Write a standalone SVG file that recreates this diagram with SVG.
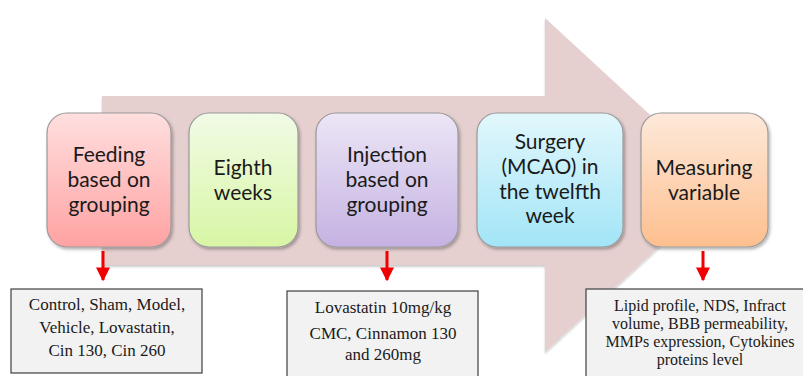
<svg xmlns="http://www.w3.org/2000/svg" width="803" height="376" viewBox="0 0 803 376">
<defs>
<style>
.step{stroke:#9a9a9a;stroke-width:1.2;filter:url(#sh)}
.st{font-family:Lato,"Open Sans",sans-serif;font-size:21px;fill:#1a1a1a;text-anchor:middle}
.note{fill:#f2f2f2;stroke:#3f3f3f;stroke-width:1.2}
.nt{font-family:"Liberation Serif","Times New Roman",serif;font-size:17px;fill:#1a1a1a;text-anchor:middle}
.nt2{font-family:"Liberation Serif","Times New Roman",serif;font-size:16px;fill:#1a1a1a;text-anchor:middle}
.red{stroke:#f00000;stroke-width:3;fill:none}
</style>
<filter id="sh" x="-10%" y="-10%" width="125%" height="125%">
<feDropShadow dx="1.5" dy="2" stdDeviation="1.5" flood-color="#000" flood-opacity="0.3"/>
</filter>
<filter id="ash" x="-5%" y="-5%" width="110%" height="110%">
<feDropShadow dx="0" dy="2" stdDeviation="1" flood-color="#000" flood-opacity="0.2"/>
</filter>
<marker id="ah" viewBox="0 0 10 10" refX="9" refY="5" markerWidth="14" markerHeight="14" markerUnits="userSpaceOnUse" orient="auto">
<path d="M0,0 L10,5 L0,10 Z" fill="#f00000"/>
</marker>
<linearGradient id="g1" x1="0" y1="0" x2="0" y2="1"><stop offset="0" stop-color="#ffdfdf"/><stop offset="1" stop-color="#ffa2a2"/></linearGradient>
<linearGradient id="g2" x1="0" y1="0" x2="0" y2="1"><stop offset="0" stop-color="#f1fbe6"/><stop offset="1" stop-color="#d8f6a4"/></linearGradient>
<linearGradient id="g3" x1="0" y1="0" x2="0" y2="1"><stop offset="0" stop-color="#ece6f6"/><stop offset="1" stop-color="#c5b2e2"/></linearGradient>
<linearGradient id="g4" x1="0" y1="0" x2="0" y2="1"><stop offset="0" stop-color="#e2f7fc"/><stop offset="1" stop-color="#a2e5f7"/></linearGradient>
<linearGradient id="g5" x1="0" y1="0" x2="0" y2="1"><stop offset="0" stop-color="#fde9da"/><stop offset="1" stop-color="#fdbf8e"/></linearGradient>
</defs>
<rect width="803" height="376" fill="#ffffff"/>
<g id="bigarrow">
<path d="M102,96 L545,96 L545,18 L726,185 L545,352 L545,265 L102,265 Z" fill="#e5cfcf" filter="url(#ash)"/>
</g>
<g id="connectors">
<line class="red" x1="103" y1="251" x2="103" y2="280" marker-end="url(#ah)"/>
<line class="red" x1="387" y1="251" x2="387" y2="280" marker-end="url(#ah)"/>
<line class="red" x1="703" y1="251" x2="703" y2="280" marker-end="url(#ah)"/>
</g>
<g id="feeding">
<rect class="step" x="47" y="113" width="124" height="134" rx="20" fill="url(#g1)"/>
<text class="st" x="109" y="162">Feeding</text>
<text class="st" x="109" y="187">based on</text>
<text class="st" x="109" y="212">grouping</text>
</g>
<g id="eighth">
<rect class="step" x="189" y="113" width="109" height="134" rx="20" fill="url(#g2)"/>
<text class="st" x="243" y="175">Eighth</text>
<text class="st" x="243" y="200">weeks</text>
</g>
<g id="injection">
<rect class="step" x="316" y="113" width="142" height="134" rx="20" fill="url(#g3)"/>
<text class="st" x="387" y="162">Injection</text>
<text class="st" x="387" y="187">based on</text>
<text class="st" x="387" y="212">grouping</text>
</g>
<g id="surgery">
<rect class="step" x="477" y="113" width="146" height="134" rx="20" fill="url(#g4)"/>
<text class="st" x="550" y="149">Surgery</text>
<text class="st" x="550" y="174">(MCAO) in</text>
<text class="st" x="550" y="199">the twelfth</text>
<text class="st" x="550" y="223">week</text>
</g>
<g id="measuring">
<rect class="step" x="641" y="113" width="127" height="134" rx="20" fill="url(#g5)"/>
<text class="st" x="704" y="175">Measuring</text>
<text class="st" x="704" y="200">variable</text>
</g>
<g id="groups">
<rect class="note" x="11" y="289" width="191" height="84"/>
<text class="nt" x="107" y="310">Control, Sham, Model,</text>
<text class="nt" x="107" y="333">Vehicle, Lovastatin,</text>
<text class="nt" x="107" y="356">Cin 130, Cin 260</text>
</g>
<g id="doses">
<rect class="note" x="287" y="291" width="191" height="90"/>
<text class="nt" x="383" y="313">Lovastatin 10mg/kg</text>
<text class="nt" x="383" y="339">CMC, Cinnamon 130</text>
<text class="nt" x="383" y="360">and 260mg</text>
</g>
<g id="variables">
<rect class="note" x="586" y="289" width="222" height="92"/>
<text class="nt2" x="700" y="311">Lipid profile, NDS, Infract</text>
<text class="nt2" x="700" y="329">volume, BBB permeability,</text>
<text class="nt2" x="700" y="347">MMPs expression, Cytokines</text>
<text class="nt2" x="700" y="365">proteins level</text>
</g>
</svg>
